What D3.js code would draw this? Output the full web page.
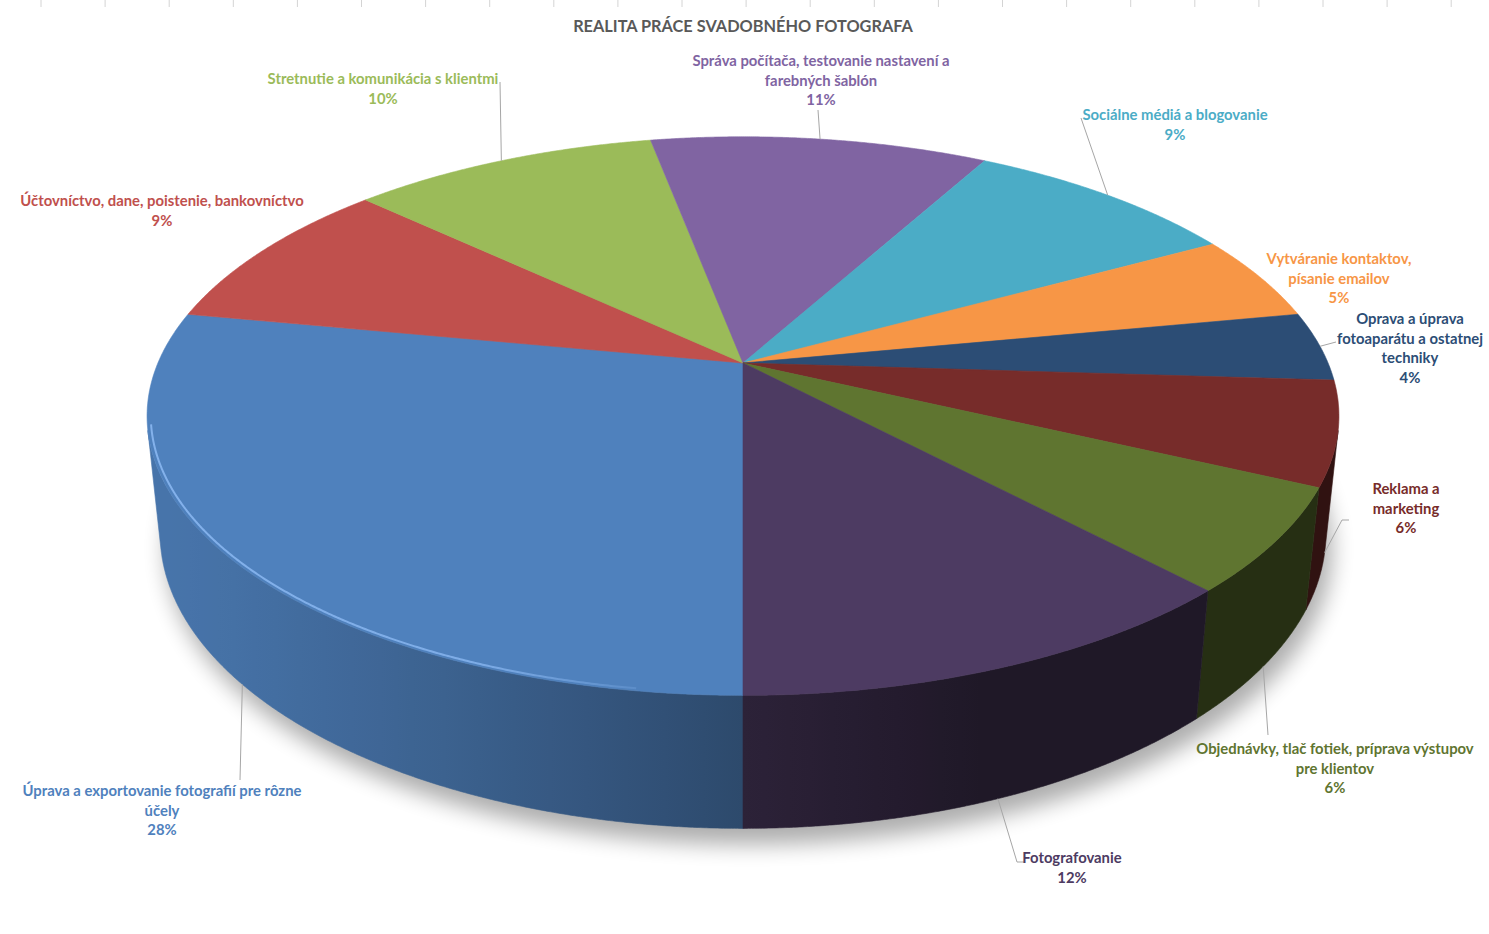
<!DOCTYPE html>
<html><head><meta charset="utf-8">
<script src="https://cdn.jsdelivr.net/npm/d3@7"></script>
<style>html,body{margin:0;padding:0;background:#fff;} svg{display:block}</style>
</head><body>
<svg id="chart" width="1489" height="934"></svg>
<script>
// ---------------- data ----------------
const title = "REALITA PRÁCE SVADOBNÉHO FOTOGRAFA";
const categories = [
  "Úprava a exportovanie fotografií pre rôzne účely",
  "Účtovníctvo, dane, poistenie, bankovníctvo",
  "Stretnutie a komunikácia s klientmi",
  "Správa počítača, testovanie nastavení a farebných šablón",
  "Sociálne médiá a blogovanie",
  "Vytváranie kontaktov, písanie emailov",
  "Oprava a úprava fotoaparátu a ostatnej techniky",
  "Reklama a marketing",
  "Objednávky, tlač fotiek, príprava výstupov pre klientov",
  "Fotografovanie"
];
const values = [28, 9, 10, 11, 9, 5, 4, 6, 6, 12];
const labelLines = [
  ["Úprava a exportovanie fotografií pre rôzne", "účely"],
  ["Účtovníctvo, dane, poistenie, bankovníctvo"],
  ["Stretnutie a komunikácia s klientmi"],
  ["Správa počítača, testovanie nastavení a", "farebných šablón"],
  ["Sociálne médiá a blogovanie"],
  ["Vytváranie kontaktov,", "písanie emailov"],
  ["Oprava a úprava", "fotoaparátu a ostatnej", "techniky"],
  ["Reklama a", "marketing"],
  ["Objednávky, tlač fotiek, príprava výstupov", "pre klientov"],
  ["Fotografovanie"]
];
const colors = ["#4f81bd","#c0504d","#9bbb59","#8064a2","#4bacc6","#f79646","#2c4d75","#772c2a","#5f7530","#4d3b62"];

// ---------------- layout ----------------
const labelLayout = [
  {cx:162,  y:790, leader:[[240,780]]},
  {cx:162,  y:200, leader:null},
  {cx:383,  y:78,  leader:[[500,82]]},
  {cx:821,  y:60,  leader:[[818,110]]},
  {cx:1175, y:114, leader:[[1081,118]]},
  {cx:1339, y:258, leader:null},
  {cx:1410, y:318, leader:[[1336,342]]},
  {cx:1406, y:488, leader:[[1349,520],[1342,520]]},
  {cx:1335, y:748, leader:[[1268,735]]},
  {cx:1072, y:857, leader:[[1024,862],[1017,862]]}
];
const P = {cx:743, cy:363, fx:2744, fy:2781, L:4.69, tilt:27*Math.PI/180, h:0.223};
const sT = Math.sin(P.tilt), cT = Math.cos(P.tilt);
function proj(th, Y, r){
  if (r === undefined) r = 1;
  const X = r*Math.sin(th), Z = -r*Math.cos(th);
  const d = P.L - Y*sT - Z*cT;
  const up = Y*cT - Z*sT;
  return [P.cx + P.fx*X/d, P.cy - P.fy*up/d];
}
const visA = Math.acos(-1/(P.L*cT));
const visB = 2*Math.PI - visA;

const svg = d3.select("#chart");
const defs = svg.append("defs");
const flt = defs.append("filter").attr("id","shadow")
  .attr("x","-20%").attr("y","-20%").attr("width","140%").attr("height","140%");
flt.append("feGaussianBlur").attr("stdDeviation", 11);

// faint spreadsheet gridline stubs at the top
svg.append("g").selectAll("line").data(d3.range(41, 1489, 64.1)).join("line")
  .attr("x1", d=>d).attr("x2", d=>d).attr("y1", 0).attr("y2", 7)
  .attr("stroke", "#d4d4d4").attr("stroke-width", 1);

const pie = d3.pie().sort(null).value(d=>d).startAngle(Math.PI).endAngle(3*Math.PI);
const arcs = pie(values);
const total = d3.sum(values);
const line = d3.line();
const STEP = 0.004;
function angles(a0, a1){
  const n = Math.max(2, Math.ceil((a1-a0)/STEP));
  return d3.range(n+1).map(i => a0 + (a1-a0)*i/n);
}

// shadow
const g = svg.append("g");
const bottomRing = angles(0, 2*Math.PI).map(t => proj(t, -P.h));
g.append("path").attr("d", line(bottomRing) + "Z")
  .attr("transform", "translate(6,16)")
  .attr("fill", "#000").attr("opacity", 0.32).attr("filter", "url(#shadow)");

// side walls (one path per slice, gradient-shaded)
function shade(th){
  return 0.4 + 0.5*Math.max(0, Math.cos(th - 250*Math.PI/180));
}
const sideG = g.append("g");
arcs.forEach((a, i) => {
  const base = d3.rgb(colors[i]);
  const a0 = a.startAngle % (2*Math.PI), a1 = a0 + (a.endAngle - a.startAngle);
  const ranges = [[a0, a1], [a0 + 2*Math.PI, a1 + 2*Math.PI], [a0 - 2*Math.PI, a1 - 2*Math.PI]];
  ranges.forEach(([r0, r1], ri) => {
    const s0 = Math.max(r0, visA), s1 = Math.min(r1, visB);
    if (s1 <= s0) return;
    const ts = angles(s0, s1);
    const pts = ts.map(t => proj(t, 0)).concat(ts.slice().reverse().map(t => proj(t, -P.h)));
    const xm = t => proj(t, -P.h/2)[0];
    const xa = xm(s0), xb = xm(s1);
    const gid = "side" + i + "_" + ri;
    const gr = defs.append("linearGradient").attr("id", gid).attr("gradientUnits", "userSpaceOnUse")
      .attr("x1", xa).attr("x2", xb).attr("y1", 0).attr("y2", 0);
    const n = 24;
    d3.range(n+1).forEach(k => {
      const t = s0 + (s1-s0)*k/n;
      const f = shade(t);
      const off = Math.abs(xb - xa) < 1e-6 ? 0 : Math.min(1, Math.max(0, (xm(t)-xa)/(xb-xa)));
      gr.append("stop").attr("offset", off)
        .attr("stop-color", d3.rgb(base.r*f, base.g*f, base.b*f).formatHex());
    });
    sideG.append("path").attr("d", line(pts) + "Z")
      .attr("fill", "url(#" + gid + ")").attr("stroke", "url(#" + gid + ")").attr("stroke-width", 0.6);
  });
});

// top faces
const topG = g.append("g");
arcs.forEach((a, i) => {
  const pts = [proj(0,0,0)].concat(angles(a.startAngle, a.endAngle).map(t => proj(t, 0)));
  topG.append("path").attr("d", line(pts) + "Z")
    .attr("fill", colors[i]).attr("stroke", colors[i]).attr("stroke-width", 0.6);
});

// bevel highlight on the front-left rim of the first slice
const hiGrad = defs.append("linearGradient").attr("id","hi").attr("gradientUnits","userSpaceOnUse")
  .attr("x1", 140).attr("x2", 700).attr("y1", 0).attr("y2", 0);
hiGrad.append("stop").attr("offset", 0).attr("stop-color", "#86b4ee").attr("stop-opacity", 0.95);
hiGrad.append("stop").attr("offset", 0.6).attr("stop-color", "#86b4ee").attr("stop-opacity", 0.85);
hiGrad.append("stop").attr("offset", 1).attr("stop-color", "#86b4ee").attr("stop-opacity", 0);
const hiPts = angles(arcs[0].startAngle + 0.15, visB + 0.02).map(t => proj(t, 0, 0.994));
topG.append("path").attr("d", line(hiPts)).attr("fill", "none")
  .attr("stroke", "url(#hi)").attr("stroke-width", 2);

// leader lines
const leadG = svg.append("g");
arcs.forEach((a, i) => {
  const lay = labelLayout[i];
  if (!lay.leader) return;
  const mid = (a.startAngle + a.endAngle)/2;
  const m = ((mid % (2*Math.PI)) + 2*Math.PI) % (2*Math.PI);
  const anchor = (m > visA && m < visB) ? proj(m, -P.h) : proj(m, 0);
  const pts = lay.leader.concat([anchor]);
  leadG.append("path").attr("d", line(pts)).attr("fill", "none")
    .attr("stroke", "#a6a6a6").attr("stroke-width", 1);
});

// font fitting (Calibri substitute)
const FONT = "Lato, 'Open Sans', 'DejaVu Sans', sans-serif";
const probe = svg.append("text").attr("font-family", FONT).attr("font-weight", "bold")
  .attr("font-size", 14).text(labelLines[0][0]);
const fs = 14 * 279 / probe.node().getComputedTextLength();
probe.attr("font-size", 16).text(title);
const tfs = 16 * 340 / probe.node().getComputedTextLength();
probe.remove();

// title
svg.append("text").attr("x", 743).attr("y", 25)
  .attr("text-anchor", "middle").attr("dominant-baseline", "central")
  .attr("font-family", FONT).attr("font-weight", "bold").attr("font-size", tfs)
  .attr("fill", "#595959").text(title);

// labels
const labG = svg.append("g");
arcs.forEach((a, i) => {
  const lay = labelLayout[i];
  const lines = labelLines[i].concat([Math.round(values[i]/total*100) + "%"]);
  const t = labG.append("text").attr("text-anchor", "middle")
    .attr("font-family", FONT).attr("font-weight", "bold").attr("font-size", fs)
    .attr("fill", colors[i]);
  lines.forEach((s, j) => {
    t.append("tspan").attr("x", lay.cx).attr("y", lay.y + j*19.6)
      .attr("dominant-baseline", "central").text(s);
  });
});
</script>
</body></html>
